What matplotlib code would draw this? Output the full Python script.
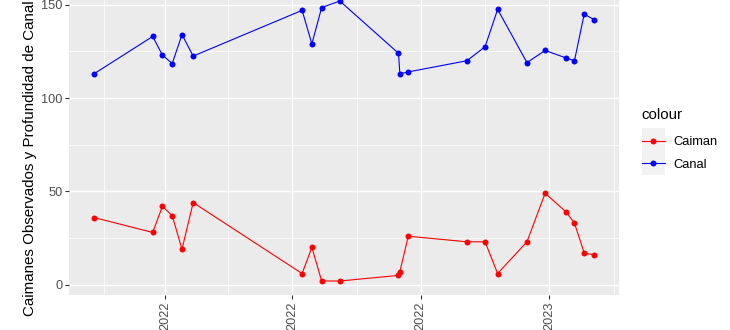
import numpy as np
import pandas as pd
import matplotlib
matplotlib.use("Agg")
import matplotlib.pyplot as plt
import matplotlib.dates as mdates
from matplotlib.patches import Rectangle

plt.rcParams['font.family'] = ['Liberation Sans', 'DejaVu Sans']

# survey dates and values
fechas = ['2022-02-09', '2022-03-23', '2022-03-30', '2022-04-06', '2022-04-13',
          '2022-04-21', '2022-07-08', '2022-07-15', '2022-07-22', '2022-08-04',
          '2022-09-15', '2022-09-16', '2022-09-22', '2022-11-03', '2022-11-16',
          '2022-11-25', '2022-12-16', '2022-12-29', '2023-01-13', '2023-01-19',
          '2023-01-26', '2023-02-02']
caiman = [36, 28, 42, 37, 19, 44, 6, 20, 2, 2, 5, 7, 26, 23, 23, 6, 23, 49, 39, 33, 17, 16]
canal = [113, 133, 123, 118.5, 134, 122.5, 147, 129, 148.5, 152, 124, 113, 114,
         120, 127.5, 147.5, 119, 125.5, 121.5, 120, 145, 142]
series_names = ['Caiman', 'Canal']
series_colors = ['#FF0000', '#0000FF']
y_label = 'Caimanes Observados y Profundidad de Canal'

x = pd.to_datetime(fechas)

fig = plt.figure(figsize=(7.3, 3.3), dpi=100)
# panel runs past the top edge, like the cropped reference
ax = fig.add_axes([69 / 730, 35 / 330, 550 / 730, 308 / 330])
ax.set_facecolor('#EBEBEB')

handles = []
for vals, name, col in zip([caiman, canal], series_names, series_colors):
    h, = ax.plot(x, vals, color=col, lw=0.8, marker='o', ms=4.3,
                 markeredgewidth=0, label=name, zorder=3)
    handles.append(h)

ax.margins(x=0.05, y=0.05)

ax.xaxis.set_major_locator(mdates.MonthLocator(bymonth=[1, 4, 7, 10]))
ax.xaxis.set_minor_locator(mdates.MonthLocator(bymonth=[2, 5, 8, 11], bymonthday=16))
ax.xaxis.set_major_formatter(mdates.DateFormatter('%Y'))
ax.set_yticks([0, 50, 100, 150])
ax.set_yticks([25, 75, 125], minor=True)

ax.grid(which='major', color='white', lw=1.05)
ax.grid(which='minor', color='white', lw=0.5)
ax.set_axisbelow(True)
for s in ax.spines.values():
    s.set_visible(False)

ax.tick_params(which='major', length=2.7, width=0.8, color='#333333',
               labelcolor='#4D4D4D', labelsize=9.2, pad=2)
ax.tick_params(which='minor', length=0)
plt.setp(ax.get_xticklabels(), rotation=90, ha='center', va='top')

fig.text(30 / 730, 1 - 158 / 330, y_label, rotation=90, ha='center', va='center',
         fontsize=10.9, color='black')

# legend
fig.text(641 / 730, 1 - 115 / 330, 'colour', ha='left', va='center', fontsize=10.8)
fig.patches.append(Rectangle((642 / 730, 1 - 175 / 330), 23 / 730, 47 / 330,
                             transform=fig.transFigure, facecolor='#F2F2F2',
                             edgecolor='none', zorder=0))
leg = fig.legend(handles=handles, loc='upper left',
                 bbox_to_anchor=(642 / 730, 1 - 136 / 330), frameon=False,
                 fontsize=9.3, handlelength=1.78, handletextpad=0.62,
                 labelspacing=0.83, borderpad=0, borderaxespad=0)

fig.savefig('out.png', dpi=100)
